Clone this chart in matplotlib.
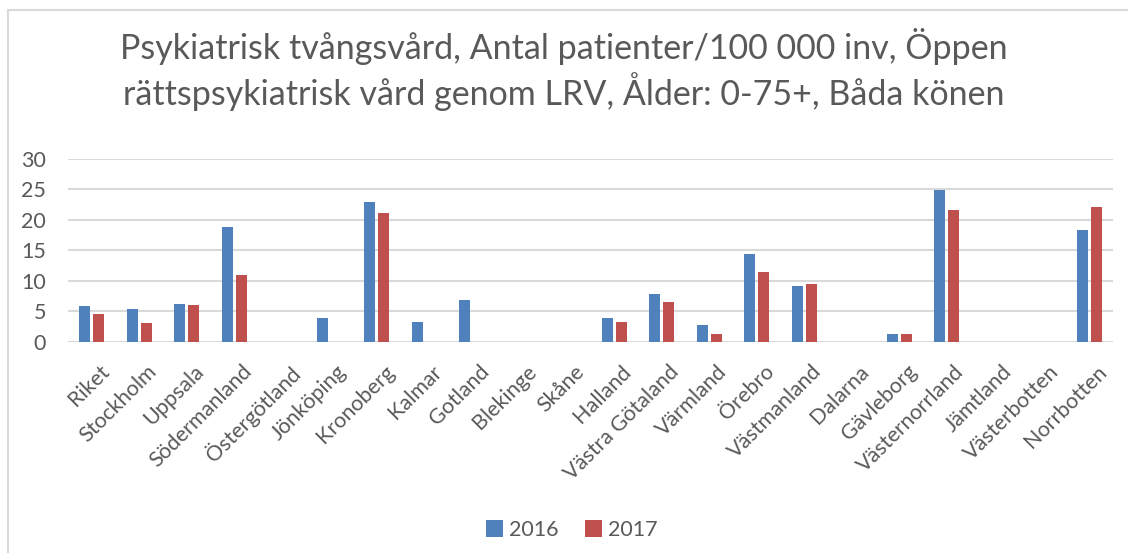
'''
Psykiatrisk tvångsvård - öppen rättspsykiatrisk vård per län, 2016 och 2017.
Grouped bar chart in the style of an Excel chart.
'''

import numpy as np
import matplotlib.pyplot as plt
from matplotlib.patches import Rectangle
from matplotlib.transforms import ScaledTranslation

plt.rcParams['font.family'] = ['Lato', 'DejaVu Sans']

# Data (missing bars = 0)
regions = ['Riket', 'Stockholm', 'Uppsala', 'Södermanland', 'Östergötland',
           'Jönköping', 'Kronoberg', 'Kalmar', 'Gotland', 'Blekinge', 'Skåne',
           'Halland', 'Västra Götaland', 'Värmland', 'Örebro', 'Västmanland',
           'Dalarna', 'Gävleborg', 'Västernorrland', 'Jämtland',
           'Västerbotten', 'Norrbotten']
values_2016 = [5.9, 5.4, 6.25, 18.8, 0, 3.95, 23.0, 3.3, 6.9, 0, 0,
               3.95, 7.9, 2.8, 14.5, 9.2, 0, 1.3, 24.9, 0, 0, 18.3]
values_2017 = [4.6, 3.1, 6.1, 10.9, 0, 0, 21.2, 0, 0, 0, 0,
               3.3, 6.6, 1.3, 11.4, 9.5, 0, 1.3, 21.6, 0, 0, 22.2]
years = ['2016', '2017']
yticks = [0, 5, 10, 15, 20, 25, 30]

title = ('Psykiatrisk tvångsvård, Antal patienter/100 000 inv, Öppen\n'
         'rättspsykiatrisk vård genom LRV, Ålder: 0-75+, Båda könen')

blue = '#4F81BD'
red = '#C0504D'
grid = '#D9D9D9'
txt = '#595959'
fs = 15.5  # tick / legend font size

fig = plt.figure(figsize=(11.28, 5.53), dpi=100)
ax = fig.add_axes([0.0603, 0.3816, 0.9264, 0.331])

x = np.arange(len(regions))
w = 0.23
ax.bar(x - 0.145, values_2016, width=w, color=blue, label=years[0], zorder=3)
ax.bar(x + 0.145, values_2017, width=w, color=red, label=years[1], zorder=3)

ax.set_xlim(-0.5, len(regions) - 0.5)
ax.set_ylim(0, 30)
ax.set_yticks(yticks)
ax.yaxis.grid(True, color=grid, linewidth=1.5, zorder=0)
for s in ax.spines.values():
    s.set_visible(False)
ax.tick_params(axis='both', length=0, colors=txt, labelsize=fs)
ax.tick_params(axis='y', pad=16)
ax.set_xticks(x)
ax.set_xticklabels(regions, rotation=45, ha='right', va='top',
                   rotation_mode='anchor', color=txt, fontsize=fs)
ax.tick_params(axis='x', pad=14)
# nudge the slanted labels a little to the right, like Excel does
shift = ScaledTranslation(7 / 100, 0, fig.dpi_scale_trans)
for lab in ax.get_xticklabels():
    lab.set_transform(lab.get_transform() + shift)

fig.text(0.5, 0.874, title, ha='center', va='center', fontsize=24.5,
         color=txt, linespacing=1.2)

ax.legend(loc='center', bbox_to_anchor=(0.507, 0.042), bbox_transform=fig.transFigure,
          ncol=2, frameon=False, fontsize=fs, labelcolor=txt,
          handlelength=0.8, handleheight=0.8, handletextpad=0.3, columnspacing=1.2)

# light frame around the chart area
fig.patches.append(Rectangle((0.007, -0.1), 1.2, 1.082, transform=fig.transFigure,
                             fill=False, edgecolor=grid, linewidth=1.5))

plt.savefig('out.png', dpi=100)
